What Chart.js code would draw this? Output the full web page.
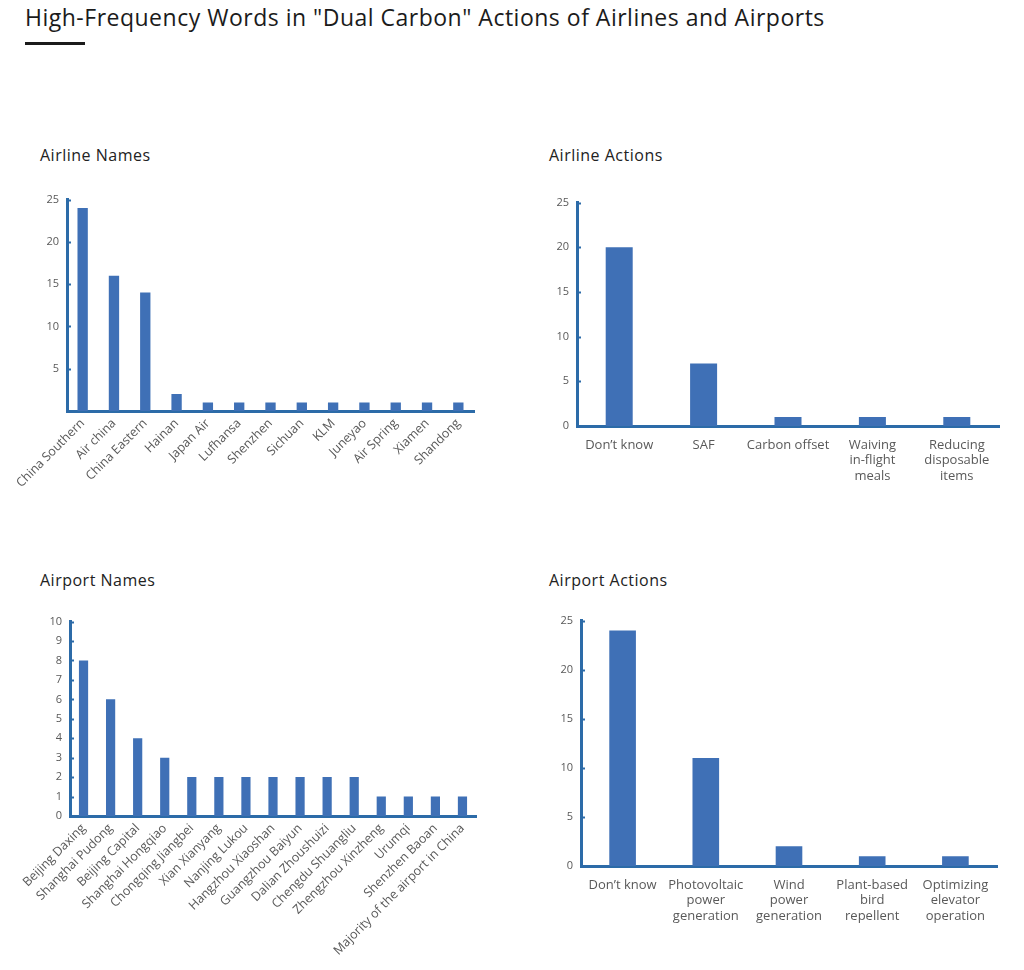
<!DOCTYPE html>
<html>
<head>
<meta charset="utf-8">
<script src="https://cdn.jsdelivr.net/npm/chart.js@4.4.1/dist/chart.umd.min.js"></script>
<style>
  body { margin: 0; background: #fff; font-family: "Open Sans", sans-serif; }
  .wrap { position: relative; width: 1024px; height: 970px; overflow: hidden; }
  h1 { position: absolute; left: 25px; top: 1px; margin: 0; font-size: 23px; font-weight: 400; color: #1b1b1b; letter-spacing: 0.5px; }
  .bar-under { position: absolute; left: 25px; top: 42px; width: 60px; height: 3px; background: #1b1b1b; }
  .sub { position: absolute; margin: 0; font-size: 16px; font-weight: 400; color: #222; letter-spacing: 0.5px; }
  canvas { position: absolute; }
</style>
</head>
<body>
<div class="wrap">
  <h1>High-Frequency Words in "Dual Carbon" Actions of Airlines and Airports</h1>
  <div class="bar-under"></div>

  <div class="sub" style="left:40px;top:144px;">Airline Names</div>
  <div class="sub" style="left:549px;top:144px;">Airline Actions</div>
  <div class="sub" style="left:40px;top:569px;">Airport Names</div>
  <div class="sub" style="left:549px;top:569px;">Airport Actions</div>

  <canvas id="airlineNames" width="490" height="315" style="left:0;top:185px;"></canvas>
  <canvas id="airlineActions" width="514" height="302" style="left:510px;top:188px;"></canvas>
  <canvas id="airportNames" width="490" height="363" style="left:0;top:607px;"></canvas>
  <canvas id="airportActions" width="514" height="324" style="left:510px;top:606px;"></canvas>
</div>

<script>
// data
const airlineNames = ['China Southern', 'Air china', 'China Eastern', 'Hainan', 'Japan Air', 'Lufhansa',
    'Shenzhen', 'Sichuan', 'KLM', 'Juneyao', 'Air Spring', 'Xiamen', 'Shandong'];
const airlineCounts = [24, 16, 14, 2, 1, 1, 1, 1, 1, 1, 1, 1, 1];

const airlineActions = [['Don\u2019t know'], ['SAF'], ['Carbon offset'], ['Waiving', 'in-flight', 'meals'],
    ['Reducing', 'disposable', 'items']];
const airlineActionCounts = [20, 7, 1, 1, 1];

const airportNames = ['Beijing Daxing', 'Shanghai Pudong', 'Beijing Capital', 'Shanghai Hongqiao',
    'Chongqing Jiangbei', 'Xian Xianyang', 'Nanjing Lukou', 'Hangzhou Xiaoshan', 'Guangzhou Baiyun',
    'Dalian Zhoushuizi', 'Chengdu Shuangliu', 'Zhengzhou Xinzheng', 'Urumqi', 'Shenzhen Baoan',
    'Majority of the airport in China'];
const airportCounts = [8, 6, 4, 3, 2, 2, 2, 2, 2, 2, 2, 1, 1, 1, 1];

const airportActions = [['Don\u2019t know'], ['Photovoltaic', 'power', 'generation'], ['Wind', 'power', 'generation'],
    ['Plant-based', 'bird', 'repellent'], ['Optimizing', 'elevator', 'operation']];
const airportActionCounts = [24, 11, 2, 1, 1];

// y axis ranges: [max, step]
const countAxis = [25, 5];
const airportNameAxis = [10, 1];

const barColor = '#3F70B6';
const axisColor = '#2C6BA8';
const labelColor = '#595959';

// short marks on the inside of the y axis at every tick
const innerTicks = {
    id: 'innerTicks',
    afterDraw(chart) {
        const y = chart.scales.y;
        const ctx = chart.ctx;
        const x0 = chart.chartArea.left;
        ctx.save();
        ctx.strokeStyle = axisColor;
        ctx.lineWidth = 2;
        y.ticks.forEach(t => {
            const py = Math.round(y.getPixelForValue(t.value)) + 0.5;
            ctx.beginPath();
            ctx.moveTo(x0, py);
            ctx.lineTo(x0 + 4, py);
            ctx.stroke();
        });
        ctx.restore();
    }
};

function makeBarChart(id, labels, values, axis, opt) {
    new Chart(document.getElementById(id), {
        type: 'bar',
        data: {
            labels: labels,
            datasets: [{
                data: values,
                backgroundColor: barColor,
                borderWidth: 0,
                barPercentage: opt.barPct,
                categoryPercentage: 1
            }]
        },
        options: {
            responsive: false,
            animation: false,
            layout: { padding: opt.padding },
            plugins: { legend: { display: false }, tooltip: { enabled: false } },
            scales: {
                x: {
                    grid: { display: false, drawTicks: false },
                    border: { color: axisColor, width: 3 },
                    afterFit: s => { s.height = opt.xHeight; },
                    ticks: {
                        color: labelColor,
                        font: { family: 'Open Sans', size: opt.xFont },
                        minRotation: opt.rotation,
                        maxRotation: opt.rotation,
                        autoSkip: false,
                        padding: opt.xPad
                    }
                },
                y: {
                    min: 0,
                    max: axis[0],
                    grid: { display: false, drawTicks: false },
                    border: { color: axisColor, width: 3 },
                    afterFit: s => { s.width = opt.yWidth; },
                    ticks: {
                        stepSize: axis[1],
                        color: labelColor,
                        font: { family: 'Open Sans', size: 11 },
                        padding: 8,
                        callback: v => (opt.hideZero && v === 0) ? '' : v
                    }
                }
            }
        },
        plugins: [innerTicks]
    });
}

makeBarChart('airlineNames', airlineNames, airlineCounts, countAxis, {
    padding: { top: 0, right: 16, left: 0, bottom: 0 },
    yWidth: 67, xHeight: 89, rotation: 45, xFont: 12.5, xPad: 5, barPct: 0.33, hideZero: true
});

makeBarChart('airlineActions', airlineActions, airlineActionCounts, countAxis, {
    padding: { top: 0, right: 25, left: 0, bottom: 0 },
    yWidth: 67, xHeight: 64, rotation: 0, xFont: 13, xPad: 11, barPct: 0.32, hideZero: false
});

makeBarChart('airportNames', airportNames, airportCounts, airportNameAxis, {
    padding: { top: 0, right: 14, left: 0, bottom: 0 },
    yWidth: 70, xHeight: 154, rotation: 45, xFont: 12.5, xPad: 5, barPct: 0.34, hideZero: false
});

makeBarChart('airportActions', airportActions, airportActionCounts, countAxis, {
    padding: { top: 0, right: 27, left: 0, bottom: 0 },
    yWidth: 71, xHeight: 64, rotation: 0, xFont: 13, xPad: 11, barPct: 0.32, hideZero: false
});
</script>
</body>
</html>
